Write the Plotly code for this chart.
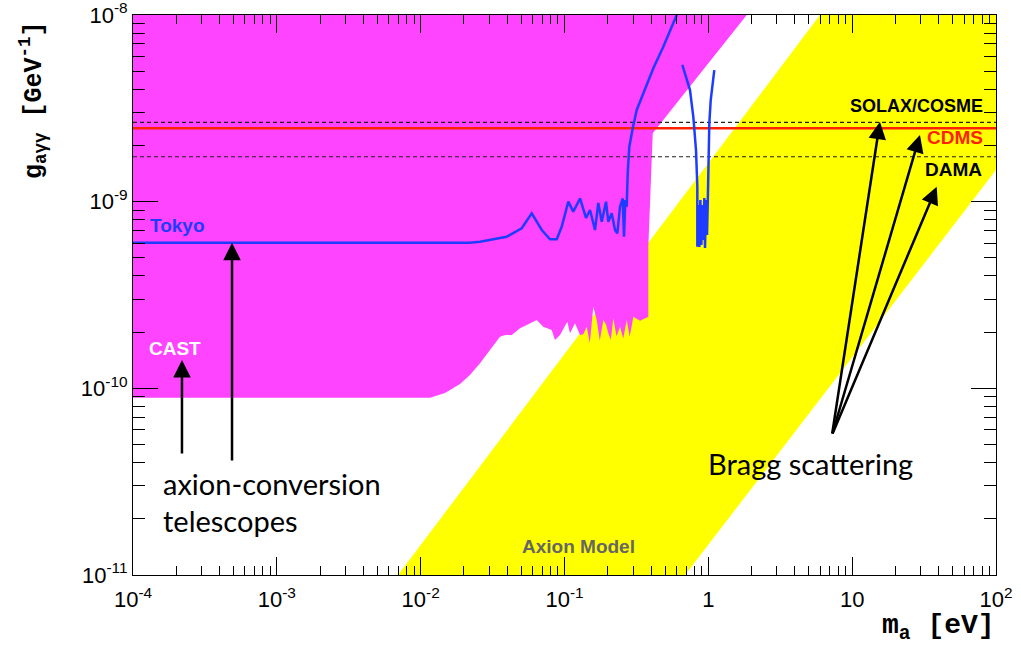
import numpy as np
import plotly.graph_objects as go

# ---------------- data (m_a in eV, g in GeV^-1) ----------------
# Axion model band (yellow): edges
band_upper_m = [0.00696, 5.97]
band_upper_g = [1e-11, 1e-8]
band_lower_m = [0.689, 100.0]
band_lower_g = [1e-11, 1.479e-9]

# CAST exclusion region (magenta) boundary
cast_m = [1e-4, 1.849, 0.4106, 0.3826, 0.3826,
          0.3350, 0.3010, 0.2840, 0.2707, 0.2560, 0.2432, 0.2300, 0.2184, 0.2100, 0.2016,
          0.1944, 0.1862, 0.1760, 0.1675, 0.1586, 0.1500, 0.1427, 0.1350, 0.1282, 0.1183,
          0.1092, 0.1046, 0.09307, 0.08590, 0.08150, 0.07124, 0.06409, 0.05462, 0.04905,
          0.04295, 0.03859, 0.03560, 0.02878, 0.02586, 0.0220, 0.01877, 0.01476, 0.01161, 1e-4]
cast_g = [1e-8, 1e-8, 2.325e-9, 5.72e-10, 2.419e-10,
          2.30e-10, 2.419e-10, 1.89e-10, 2.32e-10, 1.85e-10, 2.139e-10, 1.90e-10, 2.372e-10, 1.82e-10, 1.971e-10,
          2.20e-10, 2.323e-10, 1.80e-10, 2.323e-10, 2.737e-10, 1.75e-10, 2.139e-10, 1.95e-10, 1.931e-10, 2.231e-10,
          1.971e-10, 2.275e-10, 1.931e-10, 1.815e-10, 2.053e-10, 2.139e-10, 2.323e-10, 2.185e-10, 2.098e-10,
          1.931e-10, 1.931e-10, 1.891e-10, 1.509e-10, 1.362e-10, 1.179e-10, 1.055e-10, 9.44e-11, 8.9e-11, 8.9e-11]

# Tokyo helioscope limit (blue), two segments
tokyo1_m = [1e-4, 0.0220, 0.0259, 0.0320, 0.0396, 0.0504, 0.0592, 0.0695, 0.0793, 0.0883,
            0.0956, 0.1063, 0.1151, 0.1282, 0.1411, 0.1505, 0.1630, 0.1718, 0.1815, 0.1944,
            0.2016, 0.2129, 0.2245, 0.2329, 0.2432, 0.2539, 0.2593, 0.2648, 0.2707, 0.2751,
            0.2822, 0.2981, 0.3178, 0.3530, 0.4145, 0.4864, 0.6028]
tokyo1_g = [6.03e-10, 6.03e-10, 6.10e-10, 6.29e-10, 6.49e-10, 7.20e-10, 8.66e-10, 7.05e-10, 6.29e-10, 6.29e-10,
            7.34e-10, 1.0e-9, 8.84e-10, 1.04e-9, 8.18e-10, 9.02e-10, 7.05e-10, 9.84e-10, 7.81e-10, 1.0e-9,
            7.81e-10, 8.66e-10, 7.05e-10, 6.77e-10, 9.40e-10, 1.04e-9, 6.49e-10, 1.02e-9, 9.40e-10, 1.419e-9,
            1.970e-9, 2.472e-9, 3.10e-9, 3.80e-9, 5.18e-9, 6.76e-9, 1.0e-8]
tokyo2_m = [0.6595, 0.7456, 0.7863, 0.8208, 0.8385, 0.8385, 0.852, 0.866, 0.880, 0.894, 0.908,
            0.923, 0.938, 0.948, 0.964, 0.979, 0.995, 1.0, 1.016, 1.039, 1.10]
tokyo2_g = [5.40e-9, 3.96e-9, 2.85e-9, 1.891e-9, 1.203e-9, 5.74e-10, 9.60e-10, 5.72e-10, 1.02e-9, 5.86e-10, 9.60e-10,
            6.23e-10, 1.046e-9, 5.65e-10, 1.02e-9, 6.63e-10, 1.155e-9, 1.419e-9, 2.63e-9, 3.50e-9, 5.07e-9]

# Horizontal lines
solax_g = 2.66e-9
cdms_g = 2.47e-9
dama_g = 1.74e-9
x_range_m = [1e-4, 100.0]

# Tick labels
x_tickvals = [1e-4, 1e-3, 1e-2, 1e-1, 1, 10, 100]
x_ticktext = ["10<sup>-4</sup>", "10<sup>-3</sup>", "10<sup>-2</sup>", "10<sup>-1</sup>", "1", "10", "10<sup>2</sup>"]
y_tickvals = [1e-11, 1e-10, 1e-9, 1e-8]
y_ticktext = ["10<sup>-11</sup>", "10<sup>-10</sup>", "10<sup>-9</sup>", "10<sup>-8</sup>"]

# Arrows: (tip m, tip g, tail m, tail g)
arrows = [
    (2.19e-4, 10**-9.848, 2.19e-4, 10**-10.357),
    (4.88e-4, 6.03e-10, 4.88e-4, 10**-10.395),
    (15.6, 10**-8.5716, 7.24, 10**-10.25),
    (29.6, 10**-8.6429, 7.24, 10**-10.25),
    (38.7, 10**-8.9198, 7.24, 10**-10.25),
]

# ---------------- figure ----------------
MAGENTA = "#ff44ff"
YELLOW = "#ffff00"
BLUE = "#1e3cff"
RED = "#ff2200"

fig = go.Figure()

band_m = band_upper_m + [100.0, 100.0] + band_lower_m[::-1]
band_g = band_upper_g + [1e-8, band_lower_g[1]] + band_lower_g[::-1]
fig.add_trace(go.Scatter(x=band_m, y=band_g, mode="lines", fill="toself",
                         fillcolor=YELLOW, line=dict(width=0), hoverinfo="skip"))
fig.add_trace(go.Scatter(x=cast_m, y=cast_g, mode="lines", fill="toself",
                         fillcolor=MAGENTA, line=dict(width=0), hoverinfo="skip"))
for gv in (solax_g, dama_g):
    fig.add_trace(go.Scatter(x=x_range_m, y=[gv, gv], mode="lines",
                             line=dict(color="#222222", width=1.2, dash="4px,3px")))
fig.add_trace(go.Scatter(x=x_range_m, y=[cdms_g, cdms_g], mode="lines",
                         line=dict(color=RED, width=2.5)))
fig.add_trace(go.Scatter(x=tokyo1_m, y=tokyo1_g, mode="lines",
                         line=dict(color=BLUE, width=2.5)))
fig.add_trace(go.Scatter(x=tokyo2_m, y=tokyo2_g, mode="lines",
                         line=dict(color=BLUE, width=2.5)))

L, R, T, B = 133, 996, 15, 575
W, H = 1021, 649


def P(x, y):
    return (x - L) / (R - L), (B - y) / (B - T)


def label(text, x, y, color, size=19, xanchor="center", yanchor="middle", family="Liberation Sans, Arial",
          bold=True, align="center", angle=0):
    px, py = P(x, y)
    fig.add_annotation(x=px, y=py, xref="paper", yref="paper", showarrow=False,
                       text=("<b>%s</b>" % text) if bold else text,
                       font=dict(family=family, size=size, color=color), textangle=angle,
                       xanchor=xanchor, yanchor=yanchor, align=align)


label("Tokyo", 177, 225, BLUE)
label("CAST", 175, 348, "white")
label("SOLAX/COSME", 985, 106, "black", size=18, xanchor="right")
label("CDMS", 985, 137, RED, xanchor="right")
label("DAMA", 984, 169, "black", xanchor="right")
label("Axion Model", 578, 546, "#666666")
label("axion-conversion", 161, 483, "black", size=29, xanchor="left", family="Lato, Open Sans", bold=False)
label("telescopes", 161, 520, "black", size=29, xanchor="left", family="Lato, Open Sans", bold=False)
label("Bragg scattering", 706, 463, "black", size=29, xanchor="left", family="Lato, Open Sans", bold=False)

# axis titles
label("g<sub>aγγ</sub> [GeV<sup>-1</sup>]", 33, 100, "black", size=25,
      family="Liberation Mono, Courier New, monospace", angle=-90)
label("m<sub>a</sub> [eV]", 997, 628, "black", size=28, xanchor="right",
      family="Liberation Mono, Courier New, monospace")

for tm, tg, am, ag in arrows:
    fig.add_annotation(x=np.log10(tm), y=np.log10(tg), ax=np.log10(am), ay=np.log10(ag),
                       xref="x", yref="y", axref="x", ayref="y", text="", showarrow=True,
                       arrowhead=2, arrowsize=1.4, arrowwidth=2.5, arrowcolor="black", standoff=0)

x_minor = [k * 10.0 ** d for d in range(-4, 2) for k in range(2, 10)]
y_minor = [k * 10.0 ** d for d in range(-11, -8) for k in range(2, 10)]

tickfont = dict(family="Liberation Sans, Arial", size=22, color="black")
fig.update_xaxes(type="log", range=[-4, 2], tickmode="array", tickvals=x_tickvals, ticktext=x_ticktext,
                 ticks="inside", ticklen=18, tickwidth=1, tickcolor="black", showline=True,
                 linecolor="black", linewidth=1, mirror="ticks", showgrid=False, zeroline=False,
                 tickfont=tickfont, ticklabelstandoff=5, automargin=False, ticklabeloverflow="allow",
                 minor=dict(tickmode="array", tickvals=x_minor, ticks="inside", ticklen=9,
                            tickcolor="black", tickwidth=1, showgrid=False))
fig.update_yaxes(type="log", range=[-11, -8], tickmode="array", tickvals=y_tickvals, ticktext=y_ticktext,
                 ticks="inside", ticklen=25, tickwidth=1, tickcolor="black", showline=True,
                 linecolor="black", linewidth=1, mirror="ticks", showgrid=False, zeroline=False,
                 tickfont=tickfont, ticklabelstandoff=0, automargin=False, ticklabeloverflow="allow",
                 minor=dict(tickmode="array", tickvals=y_minor, ticks="inside", ticklen=12,
                            tickcolor="black", tickwidth=1, showgrid=False))

fig.update_layout(width=W, height=H, margin=dict(l=L, r=W - R, t=T, b=H - B, autoexpand=False),
                  paper_bgcolor="white", plot_bgcolor="white", showlegend=False)

fig.write_html("out.html")
